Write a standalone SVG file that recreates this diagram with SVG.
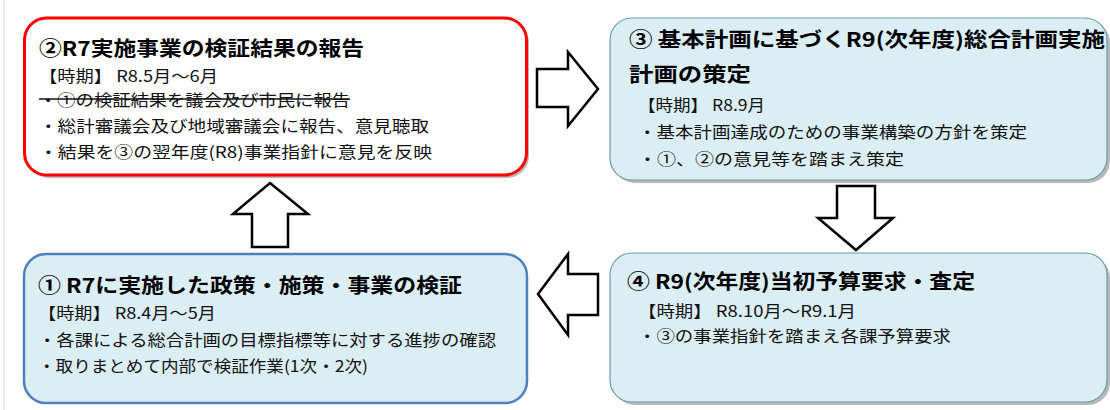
<svg xmlns="http://www.w3.org/2000/svg" width="1110" height="410" viewBox="0 0 1110 410">
<defs>
<style>
.title{font-family:"Noto Sans CJK JP","Noto Sans",sans-serif;font-weight:700;font-size:20px;fill:#000}
.body{font-family:"Noto Sans CJK JP","Noto Sans",sans-serif;font-weight:400;font-size:16px;fill:#111}
.box{fill:#dbeef4}
.shadow{fill:#8a8a8a;opacity:0.6}
.arrow{fill:#fff;stroke:#000;stroke-width:2.5;stroke-linejoin:miter}
</style>
</defs>
<rect width="1110" height="410" fill="#fff"/>
<line x1="4" y1="0" x2="4" y2="410" stroke="#d4d4d4" stroke-width="1"/>

<g id="node-2">
<rect class="shadow" x="27" y="21" width="502" height="157" rx="22"/>
<rect x="24.5" y="18" width="502" height="157" rx="22" fill="#fff" stroke="#ff0000" stroke-width="3"/>
<text class="title" x="39" y="56" textLength="325" lengthAdjust="spacingAndGlyphs">②R7実施事業の検証結果の報告</text>
<text class="body" x="39" y="82" textLength="179" lengthAdjust="spacingAndGlyphs" fill="#333">【時期】 R8.5月～6月</text>
<text class="body" x="39" y="106" textLength="311" lengthAdjust="spacingAndGlyphs">・①の検証結果を議会及び市民に報告</text>
<line x1="39" y1="99" x2="350" y2="99" stroke="#111" stroke-width="1.5"/>
<text class="body" x="39" y="132" textLength="390" lengthAdjust="spacingAndGlyphs">・総計審議会及び地域審議会に報告、意見聴取</text>
<text class="body" x="39" y="158" textLength="393" lengthAdjust="spacingAndGlyphs">・結果を③の翌年度(R8)事業指針に意見を反映</text>
</g>

<g id="node-3">
<rect class="shadow" x="613" y="21" width="497" height="162" rx="22"/>
<rect class="box" x="610" y="18" width="497" height="162" rx="22" stroke="#6a9aa8" stroke-width="1.2"/>
<text class="title" x="629" y="47" textLength="476" lengthAdjust="spacingAndGlyphs">③ 基本計画に基づくR9(次年度)総合計画実施</text>
<text class="title" x="629" y="82" textLength="122" lengthAdjust="spacingAndGlyphs">計画の策定</text>
<text class="body" x="638" y="111" textLength="127" lengthAdjust="spacingAndGlyphs">【時期】 R8.9月</text>
<text class="body" x="638" y="138" textLength="389" lengthAdjust="spacingAndGlyphs">・基本計画達成のための事業構築の方針を策定</text>
<text class="body" x="638" y="165" textLength="266" lengthAdjust="spacingAndGlyphs">・①、②の意見等を踏まえ策定</text>
</g>

<g id="node-1">
<rect class="box" x="24" y="254" width="503" height="149" rx="22" stroke="#4f81bd" stroke-width="2.5"/>
<text class="title" x="38" y="293" textLength="424" lengthAdjust="spacingAndGlyphs">① R7に実施した政策・施策・事業の検証</text>
<text class="body" x="38" y="319" textLength="178" lengthAdjust="spacingAndGlyphs">【時期】 R8.4月～5月</text>
<text class="body" x="38" y="346" textLength="458" lengthAdjust="spacingAndGlyphs">・各課による総合計画の目標指標等に対する進捗の確認</text>
<text class="body" x="38" y="372" textLength="330" lengthAdjust="spacingAndGlyphs">・取りまとめて内部で検証作業(1次・2次)</text>
</g>

<g id="node-4">
<rect class="shadow" x="613" y="256" width="497" height="149" rx="22"/>
<rect class="box" x="610" y="253" width="497" height="149" rx="22" stroke="#6a9aa8" stroke-width="1.2"/>
<text class="title" x="627" y="289" textLength="348" lengthAdjust="spacingAndGlyphs">④ R9(次年度)当初予算要求・査定</text>
<text class="body" x="638" y="317" textLength="218" lengthAdjust="spacingAndGlyphs">【時期】 R8.10月～R9.1月</text>
<text class="body" x="638" y="342" textLength="313" lengthAdjust="spacingAndGlyphs">・③の事業指針を踏まえ各課予算要求</text>
</g>

<g id="connectors">
<path class="arrow" d="M537,69 H568 V52 L598,89 L568,126 V107 H537 Z"/>
<path class="arrow" d="M837,186 H875 V218 H893 L856,250 L818,218 H837 Z"/>
<path class="arrow" d="M538,294 L568,254 V274 H598 V315 H568 V335 Z"/>
<path class="arrow" d="M270,183 L308,214 H288 V247 H252 V214 H233 Z"/>
</g>
</svg>
